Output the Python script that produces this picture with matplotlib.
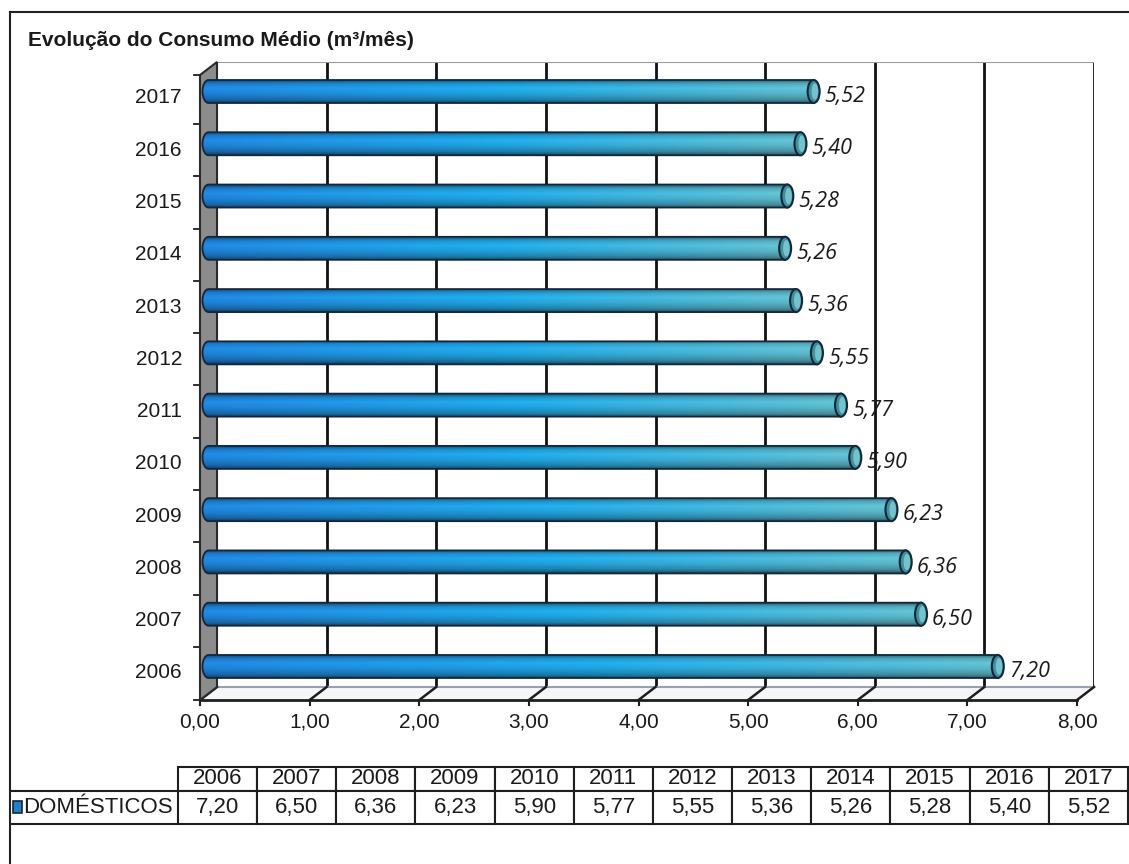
import numpy as np
import matplotlib.pyplot as plt
import matplotlib.transforms as mtransforms
from matplotlib.patches import Polygon, Ellipse, PathPatch, Rectangle
from matplotlib.path import Path
from matplotlib.lines import Line2D

plt.rcParams['font.family'] = ['Liberation Sans', 'DejaVu Sans']

# data
titulo = 'Evolução do Consumo Médio (m³/mês)'
serie = 'DOMÉSTICOS'
anos = ['2006', '2007', '2008', '2009', '2010', '2011',
        '2012', '2013', '2014', '2015', '2016', '2017']
consumo = [7.20, 6.50, 6.36, 6.23, 5.90, 5.77, 5.55, 5.36, 5.26, 5.28, 5.40, 5.52]
xticks = [0, 1, 2, 3, 4, 5, 6, 7, 8]


def br(v):
    return f'{v:.2f}'.replace('.', ',')


rotulos = [br(v) for v in consumo]

W, H = 1129, 864
fig = plt.figure(figsize=(W / 100, H / 100), dpi=100)


def fx(px):
    return px / W


def fy(py):
    return 1 - py / H


# back wall of the pseudo-3D chart
ax = fig.add_axes([fx(217), fy(687), fx(1094) - fx(217), fy(62) - fy(687)])
ax.axis('off')
XMAX = 8
YLO, YHI = -0.517, 11.44
px_x = (1094 - 217) / XMAX
px_y = (687 - 62) / (YHI - YLO)
DX, DY = -17 / px_x, -13 / px_y          # depth of the floor / side wall

# mid-depth transform for the bars
mid = ax.transData + mtransforms.ScaledTranslation(-8.5 / 100, -6.5 / 100, fig.dpi_scale_trans)

# gridlines and top edge
for t in xticks[1:]:
    ax.plot([t, t], [YLO, YHI], color='#111111', lw=2, zorder=1)
ax.plot([0, XMAX], [YHI, YHI], color='#9a9a9a', lw=1.5, zorder=1)

# floor
ax.add_patch(Polygon([(0, YLO), (XMAX, YLO), (XMAX + DX, YLO + DY), (DX, YLO + DY)],
                     closed=True, fc='#f5f6fa', ec='none', zorder=1, clip_on=False))
ax.plot([0, XMAX], [YLO, YLO], color='#9aa0b4', lw=1.5, zorder=1, clip_on=False)
ax.plot([DX, XMAX + DX], [YLO + DY, YLO + DY], color='#1e1e1e', lw=2, zorder=2, clip_on=False)
for t in xticks:
    ax.plot([t, t + DX], [YLO, YLO + DY], color='#1e1e1e', lw=1.8, zorder=2, clip_on=False)
    ax.plot([t + DX, t + DX], [YLO + DY, YLO + DY - 5 / px_y], color='#1e1e1e', lw=1.5,
            zorder=2, clip_on=False)
    ax.text(t + DX, YLO + DY - 22 / px_y, br(t), ha='center', va='center', fontsize=15,
            color='#1a1a1a')

# side wall
ax.add_patch(Polygon([(0, YHI), (0, YLO), (DX, YLO + DY), (DX, YHI + DY)], closed=True,
                     fc='#8c8c8c', ec='#2a2a2a', lw=1.5, zorder=3, clip_on=False))
marcas = [YLO, YHI] + [i + 0.5 for i in range(len(anos) - 1)]
for m in marcas:
    ax.plot([DX - 6 / px_x, DX], [m + DY, m + DY], color='#1e1e1e', lw=1.3, clip_on=False)
for i, a in enumerate(anos):
    ax.text(DX - 18 / px_x, i + DY, a, ha='right', va='center', fontsize=15, color='#1a1a1a')


# cylinder shading
def cylinder_rgb(nx=300, ny=40):
    s = np.linspace(0, 1, nx)
    base = np.stack([np.interp(s, [0, 0.5, 1], [0.12, 0.12, 0.36]),
                     np.interp(s, [0, 0.5, 1], [0.50, 0.63, 0.71]),
                     np.interp(s, [0, 0.5, 1], [0.83, 0.86, 0.77])], axis=1)
    t = np.linspace(0, 1, ny)
    shade = np.interp(t, [0, 0.15, 0.4, 0.65, 0.85, 1], [0.5, 0.8, 1.0, 1.1, 0.95, 0.6])
    return np.clip(base[None, :, :] * shade[:, None, None], 0, 1)


img = cylinder_rgb()
hbar = 23 / px_y
rx = 6 / px_x
k = 0.5523
bars = ax.barh(range(len(anos)), consumo, height=hbar, color='none', edgecolor='none',
               transform=mid, zorder=4)
for rect, lab in zip(bars, rotulos):
    x1 = rect.get_x() + rect.get_width()
    y0 = rect.get_y()
    y1 = y0 + rect.get_height()
    yc = (y0 + y1) / 2
    hh = (y1 - y0) / 2
    verts = [(0, y1), (x1, y1), (x1, y0), (0, y0),
             (-k * rx, y0), (-rx, yc - k * hh), (-rx, yc),
             (-rx, yc + k * hh), (-k * rx, y1), (0, y1), (0, y1)]
    codes = [Path.MOVETO, Path.LINETO, Path.LINETO, Path.LINETO,
             Path.CURVE4, Path.CURVE4, Path.CURVE4,
             Path.CURVE4, Path.CURVE4, Path.CURVE4, Path.CLOSEPOLY]
    body = PathPatch(Path(verts, codes), fc='none', ec='#15263a', lw=1.3, transform=mid,
                     zorder=5, clip_on=False)
    ax.add_patch(body)
    im = ax.imshow(img, extent=(-rx, x1, y0, y1), origin='lower', aspect='auto',
                   interpolation='bilinear', transform=mid, zorder=4)
    im.set_clip_box(fig.bbox)
    im.set_clip_path(body)
    ax.add_patch(Ellipse((x1, yc), 2 * rx, y1 - y0, fc='#3f8f9c', ec='#15263a', lw=1.5,
                         transform=mid, zorder=6, clip_on=False))
    ax.add_patch(Ellipse((x1 + 0.2 * rx, yc), 1.1 * rx, 0.72 * (y1 - y0), fc='#74c2ca',
                         ec='none', transform=mid, zorder=6, clip_on=False))
    ax.text(x1 + 0.1, yc - 0.1, lab, transform=mid, ha='left', va='center', fontsize=15.5,
            fontstyle='italic', family=['Open Sans', 'DejaVu Sans'], color='#1a1a1a',
            zorder=7)

ax.set_xlim(0, XMAX)
ax.set_ylim(YLO, YHI)

# title and outer frame
fig.text(fx(28), fy(40), titulo, fontsize=15, fontweight='bold', ha='left', va='center',
         color='#1a1a1a')
fig.add_artist(Line2D([fx(10), 1], [fy(12), fy(12)], color='#222222', lw=1.5))
fig.add_artist(Line2D([fx(10), fx(10)], [fy(12), 0], color='#222222', lw=1.5))

# data table
ax_tab = fig.add_axes([fx(10), fy(824), fx(1128) - fx(10), fy(767) - fy(824)])
ax_tab.axis('off')
larg = [168] + [79.2] * len(anos)
larg = [w / sum(larg) for w in larg]
tab = ax_tab.table(cellText=[[''] + anos, [serie] + rotulos], colWidths=larg,
                   cellLoc='center', bbox=[0, 0, 1, 1])
tab.auto_set_font_size(False)
tab.set_fontsize(16)
for (r, c), cell in tab.get_celld().items():
    cell.set_linewidth(1.5)
    cell.set_edgecolor('#1e1e1e')
    cell.set_height(24 if r == 0 else 33)
    cell.get_text().set_color('#1a1a1a')
tab[0, 0].visible_edges = ''
tab[1, 0].visible_edges = 'TB'
tab[1, 0].get_text().set_ha('right')
tab[1, 0].PAD = 0.03
ax_tab.add_patch(Rectangle((3 / 1118, 11 / 57), 9 / 1118, 12 / 57, transform=ax_tab.transAxes,
                           fc='#2080c8', ec='#15263a', lw=1.2, clip_on=False))

fig.savefig('out.png', dpi=100)
